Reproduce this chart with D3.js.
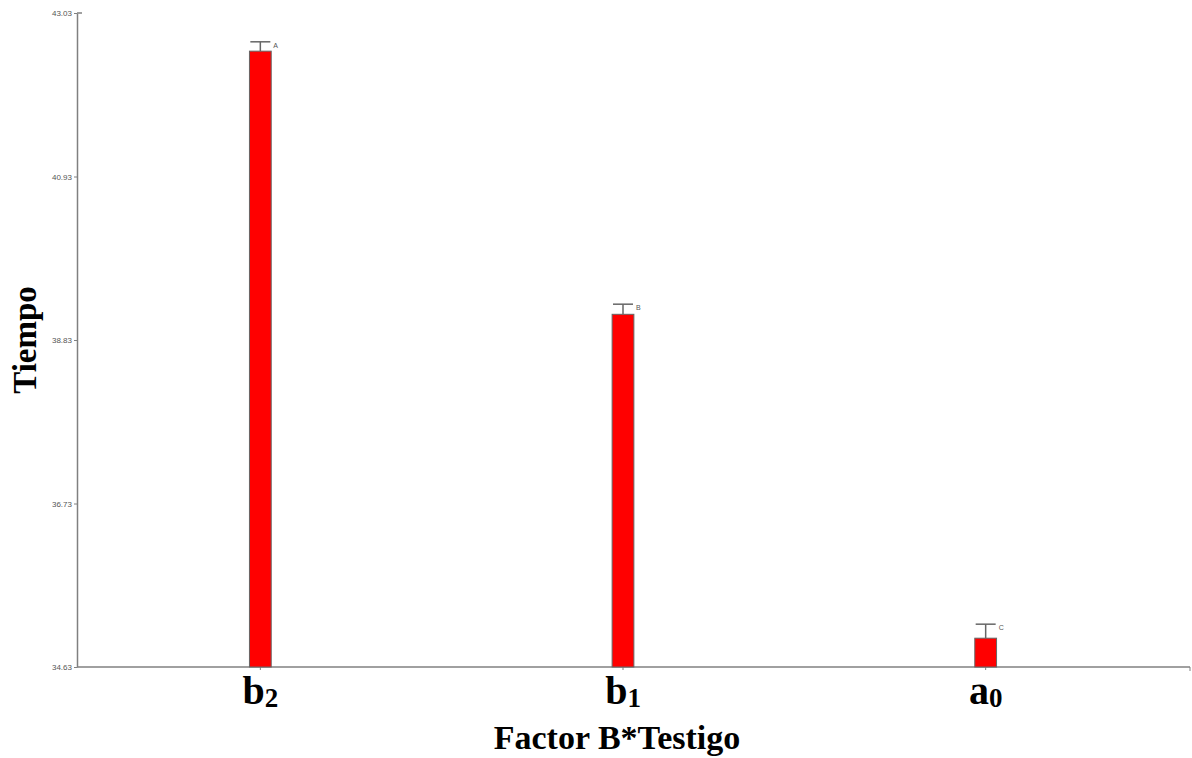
<!DOCTYPE html>
<html>
<head>
<meta charset="utf-8">
<script src="https://cdn.jsdelivr.net/npm/d3@7"></script>
<style>
  html, body { margin: 0; padding: 0; background: #fff; }
  svg { display: block; }
</style>
</head>
<body>
<svg id="chart" width="1192" height="758"></svg>
<script>
const categories = ["b2", "b1", "a0"];
const catBase = ["b", "b", "a"];
const catSub = ["2", "1", "0"];
const means = [42.54, 39.16, 35.00];
const errUpper = [42.66, 39.29, 35.18];
const letters = ["A", "B", "C"];
const yTicks = [34.63, 36.73, 38.83, 40.93, 43.03];
const yLabel = "Tiempo";
const xLabel = "Factor B*Testigo";

(function () {
const svg = d3.select("#chart");
const mLeft = 77, mRight = 1190, mTop = 13, mBottom = 667;

const y = d3.scaleLinear().domain([34.63, 43.03]).range([mBottom, mTop]);
const x = d3.scaleBand().domain(categories).range([mLeft + 2, 1167]).paddingInner(0.94).paddingOuter(0.47);

// axes
const yAxis = d3.axisLeft(y).tickValues(yTicks).tickFormat(d3.format(".2f")).tickSize(3).tickSizeOuter(0);
const gy = svg.append("g").attr("transform", `translate(${mLeft},0)`).call(yAxis);
gy.select(".domain").attr("stroke", "#808080").attr("stroke-width", 1.5);
gy.selectAll(".tick line").attr("stroke", "#808080");
gy.selectAll(".tick text").attr("fill", "#555").attr("font-family", "Arial, Liberation Sans, sans-serif").attr("font-size", 8).attr("dx", 1);
svg.append("line").attr("x1", mLeft).attr("x2", mLeft + 5).attr("y1", mTop).attr("y2", mTop).attr("stroke", "#808080").attr("stroke-width", 1.5);

// x axis line
svg.append("line").attr("x1", mLeft).attr("x2", mRight).attr("y1", mBottom).attr("y2", mBottom).attr("stroke", "#808080").attr("stroke-width", 1.5);
svg.append("line").attr("x1", mRight).attr("x2", mRight).attr("y1", mBottom).attr("y2", mBottom + 4).attr("stroke", "#808080").attr("stroke-width", 1);
svg.selectAll(".xtick").data(categories).enter().append("line")
  .attr("x1", d => x(d) + x.bandwidth() / 2).attr("x2", d => x(d) + x.bandwidth() / 2)
  .attr("y1", mBottom).attr("y2", mBottom + 3).attr("stroke", "#808080");

// bars
svg.selectAll(".bar").data(categories).enter().append("rect")
  .attr("x", d => x(d)).attr("width", x.bandwidth())
  .attr("y", (d, i) => y(means[i])).attr("height", (d, i) => y(34.63) - y(means[i]))
  .attr("fill", "#ff0000").attr("stroke", "#666").attr("stroke-width", 1);

// error bars
const capW = 20;
categories.forEach((c, i) => {
  const cx = x(c) + x.bandwidth() / 2;
  svg.append("line").attr("x1", cx).attr("x2", cx).attr("y1", y(means[i])).attr("y2", y(errUpper[i])).attr("stroke", "#666").attr("stroke-width", 1.5);
  svg.append("line").attr("x1", cx - capW / 2).attr("x2", cx + capW / 2).attr("y1", y(errUpper[i])).attr("y2", y(errUpper[i])).attr("stroke", "#666").attr("stroke-width", 1.5);
  svg.append("text").attr("x", cx + capW / 2 + 3).attr("y", y(errUpper[i]) + 6)
    .attr("font-family", "Arial, Liberation Sans, sans-serif").attr("font-size", 7).attr("fill", "#555").text(letters[i]);
});

// category labels
categories.forEach((c, i) => {
  const cx = x(c) + x.bandwidth() / 2;
  const t = svg.append("text").attr("x", cx).attr("y", 704).attr("text-anchor", "middle")
    .attr("font-family", "Liberation Serif, Times New Roman, serif").attr("font-weight", "bold").attr("font-size", 40).attr("fill", "#000");
  t.append("tspan").text(catBase[i]);
  t.append("tspan").attr("font-size", 27).attr("font-weight", "bold").attr("dy", 3).text(catSub[i]);
});

// axis titles
svg.append("text").attr("x", 617).attr("y", 749).attr("text-anchor", "middle")
  .attr("font-family", "Liberation Serif, Times New Roman, serif").attr("font-weight", "bold").attr("font-size", 34).attr("fill", "#000").text(xLabel);
svg.append("text").attr("transform", "translate(36,340) rotate(-90)").attr("text-anchor", "middle")
  .attr("font-family", "Liberation Serif, Times New Roman, serif").attr("font-weight", "bold").attr("font-size", 33).attr("fill", "#000").text(yLabel);
})();
</script>
</body>
</html>
